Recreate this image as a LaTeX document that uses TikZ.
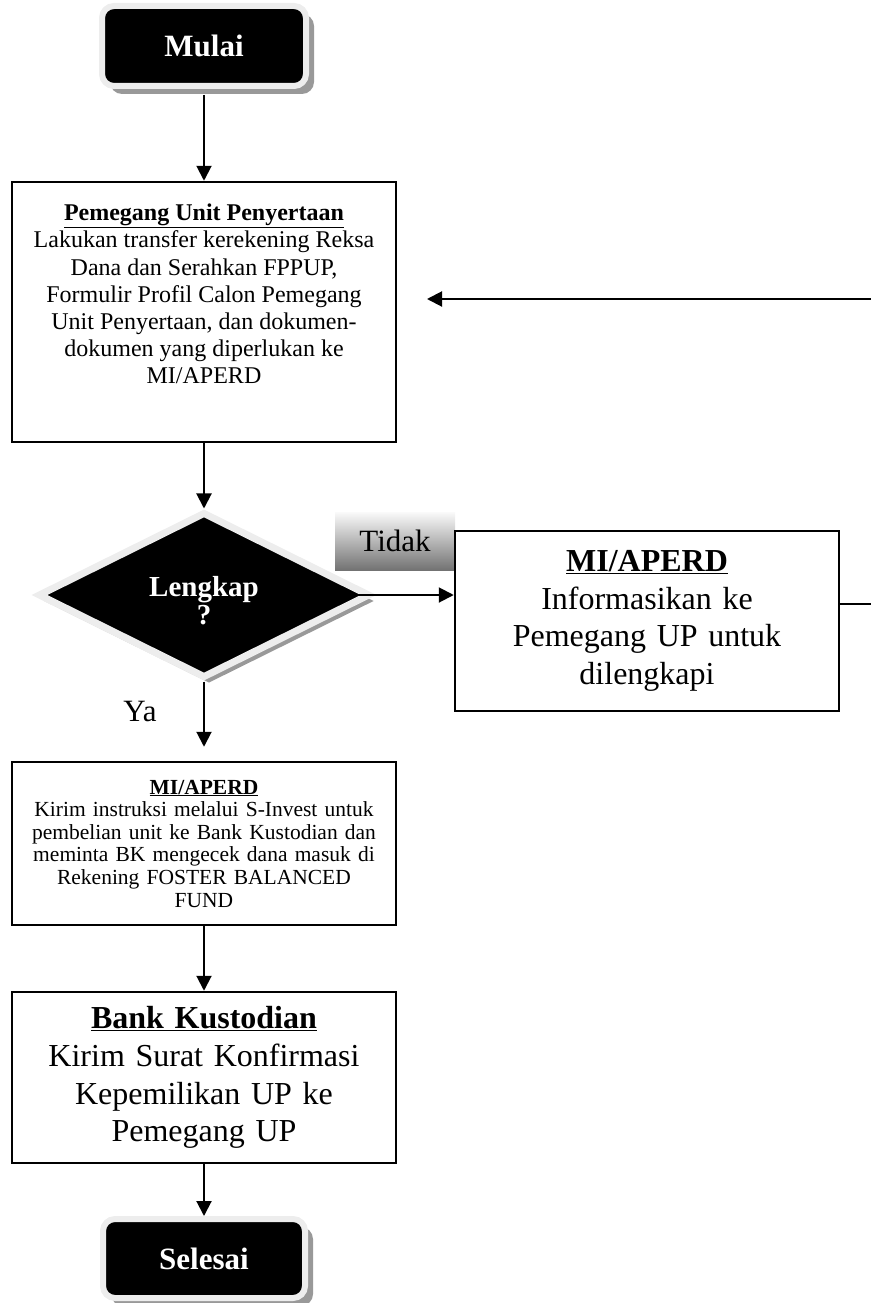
\documentclass[tikz,border=0pt]{standalone}
\usepackage{fontspec}
\setmainfont{Liberation Serif}
\usetikzlibrary{shapes.geometric,shadows,arrows.meta}
\begin{document}
\begin{tikzpicture}[x=1pt,y=-1pt,
    term/.style={rounded corners=12pt, fill=black, draw=black!7, line width=6pt,
      minimum width=204pt, minimum height=80pt, inner sep=0pt, text=white,
      font=\bfseries\fontsize{31}{36}\selectfont,
      drop shadow={shadow xshift=8pt, shadow yshift=-8pt, fill=black!40, opacity=1}},
    dec/.style={diamond, aspect=2, minimum width=332pt, minimum height=166pt,
      inner sep=0pt, fill=black, draw=black!7, line width=7pt, text=white, align=center,
      font=\bfseries\fontsize{29}{28}\selectfont, text height=58pt, text depth=0pt,
      drop shadow={shadow xshift=5pt, shadow yshift=-6pt, fill=black!40, opacity=1}},
    proc/.style={draw, line width=2.5pt, minimum width=384pt, inner sep=0pt},
    flow/.style={line width=2pt, -{Triangle[length=15pt,width=15pt]}}]
    \useasboundingbox (0,0) rectangle (870,1303);

    \node[term] (mulai) at (204,46) {Mulai};
    \node[proc, minimum height=260pt, font=\fontsize{24}{27.2}\selectfont] (pemegang) at (204,312)
      {\parbox[c][216pt][t]{384pt}{\centering\underline{\textbf{Pemegang Unit Penyertaan}}\\
      Lakukan transfer kerekening Reksa\\ Dana dan Serahkan FPPUP,\\
      Formulir Profil Calon Pemegang\\ Unit Penyertaan, dan dokumen-\\
      dokumen yang diperlukan ke\\ MI/APERD}};
    \node[dec] (lengkap) at (204,595) {Lengkap\\?};
    \node[top color=black!2, bottom color=black!55, minimum width=120pt, minimum height=58pt,
      inner sep=0pt, font=\fontsize{31}{36}\selectfont] (tidak) at (395,541) {Tidak};
    \node[font=\fontsize{31}{36}\selectfont] (ya) at (140,711) {Ya};
    \node[proc, minimum height=180pt, text width=380pt, align=center,
      font=\fontsize{32}{37.5}\selectfont] (info) at (647,621)
      {\underline{\textbf{MI/APERD}}\\ Informasikan ke\\ Pemegang UP untuk\\ dilengkapi};
    \node[proc, minimum height=163pt, text width=380pt, align=center,
      font=\fontsize{21.5}{22.6}\selectfont] (kirim) at (204,843.5)
      {\underline{\textbf{MI/APERD}}\\ Kirim instruksi melalui S-Invest untuk\\
      pembelian unit ke Bank Kustodian dan\\ meminta BK mengecek dana masuk di\\
      Rekening FOSTER BALANCED\\ FUND};
    \node[proc, minimum height=171pt, text width=380pt, align=center,
      font=\fontsize{32}{37.8}\selectfont] (kustodian) at (204,1077.5)
      {\underline{\textbf{Bank Kustodian}}\\ Kirim Surat Konfirmasi\\ Kepemilikan UP ke\\ Pemegang UP};
    \node[term, minimum width=202pt, minimum height=79pt] (selesai) at (204,1258.5) {Selesai};

    \coordinate (ret) at (876,299);
    \coordinate (retend) at (427,299);

    \draw[flow, shorten <=6pt] (mulai) -- (pemegang);
    \draw[flow] (pemegang) -- (lengkap);
    \draw[flow, shorten >=14pt] (lengkap) -- (kirim);
    \draw[flow, shorten <=-20pt] (lengkap.east) -- (lengkap.east -| info.west);
    \draw[flow] ([yshift=17pt]info.east) -| (ret) -- (retend);
    \draw[flow] (kirim) -- (kustodian);
    \draw[flow] (kustodian) -- (selesai);
\end{tikzpicture}
\end{document}
